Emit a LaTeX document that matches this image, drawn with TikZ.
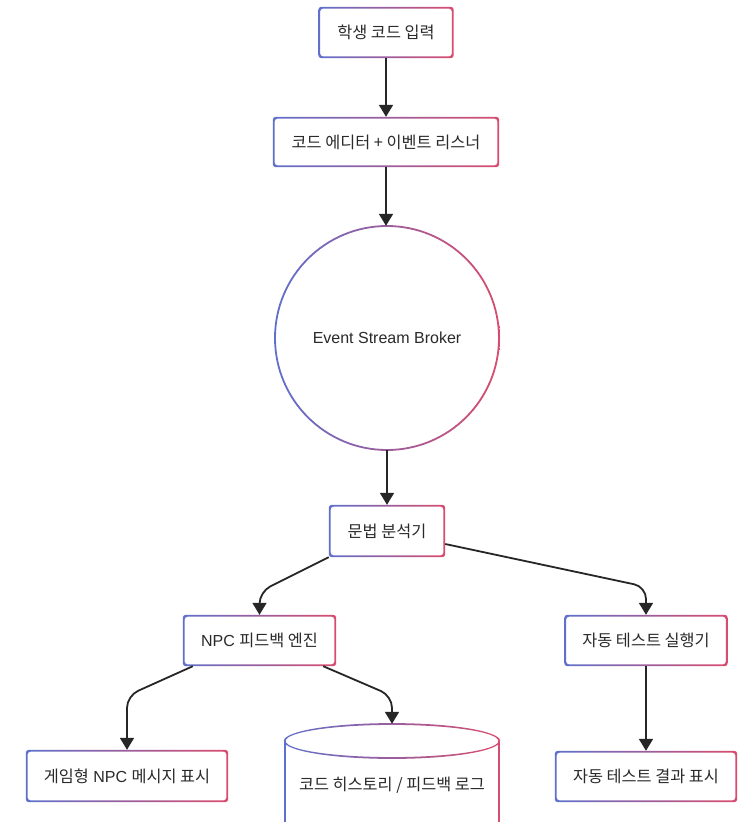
\documentclass[tikz,border=0pt]{standalone}
\usepackage{fontspec}
\setmainfont{Liberation Sans}
\newfontfamily\krfont{Noto Sans CJK KR}
\newcommand\kr{\krfont\fontsize{16.3pt}{19pt}\selectfont}
\usetikzlibrary{arrows.meta}
\definecolor{cL}{HTML}{5F70CC}
\definecolor{cR}{HTML}{D94C6E}
\definecolor{txt}{HTML}{2A2A2A}
\newcommand\gradbox[1]{\shade[ring, rounded corners=3pt] (#1.south west) rectangle (#1.north east) ([shift={(1.8pt,1.8pt)}]#1.south west) rectangle ([shift={(-1.8pt,-1.8pt)}]#1.north east);}
\begin{document}
\begin{tikzpicture}[x=1pt,y=-1pt,
  box/.style={draw=none, inner sep=0pt, text=txt, font=\fontsize{16pt}{19pt}\selectfont},
  ring/.style={even odd rule, left color=cL, right color=cR},
  conn/.style={draw=black!85, line width=1.8pt, -{Triangle[width=14pt,length=12pt]}, rounded corners=12pt}]
\fill[white] (0,0) rectangle (743,822);
\useasboundingbox (0,0) rectangle (743,822);

\node[box, minimum width=135pt, minimum height=51pt] (n1) at (386,32.5) {{\kr 학생 코드 입력}};
\node[box, minimum width=226pt, minimum height=50pt] (n2) at (386,142) {{\kr 코드 에디터 + 이벤트 리스너}};
\node[box, circle, minimum size=224pt] (broker) at (387,338) {Event Stream Broker};
\node[box, minimum width=116pt, minimum height=52pt] (p) at (387,531) {{\kr 문법 분석기}};
\node[box, minimum width=153pt, minimum height=51pt] (npc) at (259.5,640.5) {NPC {\kr 피드백 엔진}};
\node[box, minimum width=163pt, minimum height=51pt] (auto) at (646,640.5) {{\kr 자동 테스트 실행기}};
\node[box, minimum width=202pt, minimum height=52pt] (game) at (127,776) {{\kr 게임형} NPC {\kr 메시지 표시}};
\node[box, minimum width=215pt, minimum height=122pt] (hist) at (392,785) {{\kr 코드 히스토리 / 피드백 로그}};
\node[box, minimum width=182pt, minimum height=51pt] (res) at (646,776.5) {{\kr 자동 테스트 결과 표시}};

\gradbox{n1}
\gradbox{n2}
\gradbox{p}
\gradbox{npc}
\gradbox{auto}
\gradbox{game}
\gradbox{res}
\shade[ring] (broker.center) circle (112.9pt) (broker.center) circle (111.1pt);
\shade[ring] (392,741) ellipse [x radius=108.2pt, y radius=17.9pt] (392,741) ellipse [x radius=106.4pt, y radius=16.1pt];
\shade[ring] (284.1,741) rectangle (285.9,822) (498.1,741) rectangle (499.9,822);

\draw[conn] (n1.south) -- (n1.south |- n2.north);
\draw[conn] (n2.south) -- (n2.south |- broker.north);
\draw[conn] (broker.south) -- (broker.south |- p.north);
\draw[conn] (p.south west) -- ([yshift=23pt]npc.north) -- (npc.north);
\draw[conn] ([yshift=-13pt]p.east) -- ([yshift=28pt]auto.north) -- (auto.north);
\draw[conn] ([xshift=10pt]npc.south west) -- ([yshift=54pt]game.north) -- (game.north);
\draw[conn] ([xshift=-13pt]npc.south east) -- ([yshift=28pt]hist.north) -- (hist.north);
\draw[conn] (auto.south) -- (auto.south |- res.north);
\end{tikzpicture}
\end{document}
